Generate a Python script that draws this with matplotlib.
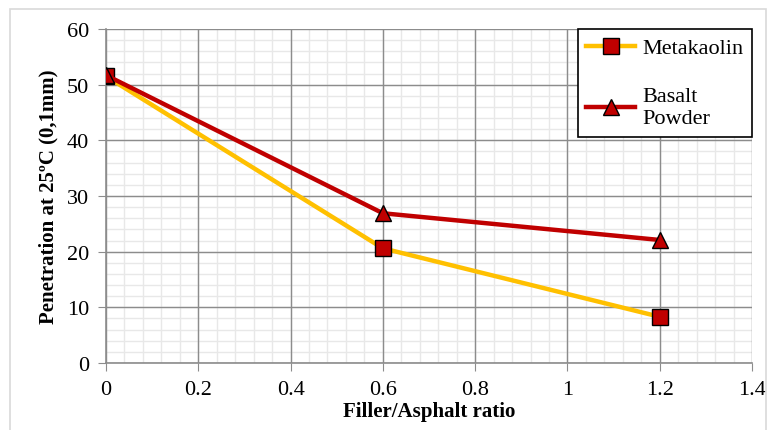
import matplotlib
matplotlib.use("Agg")
import matplotlib.pyplot as plt
import numpy as np
from matplotlib.patches import Rectangle

ratio = [0, 0.6, 1.2]
metakaolin = [51.5, 20.6, 8.3]
basalt = [51.7, 26.9, 22.1]
xticks = [0, 0.2, 0.4, 0.6, 0.8, 1, 1.2, 1.4]
xticklabels = ["0", "0.2", "0.4", "0.6", "0.8", "1", "1.2", "1.4"]
yticks = [0, 10, 20, 30, 40, 50, 60]

plt.rcParams['font.family'] = ['Liberation Serif', 'DejaVu Serif']

fig = plt.figure(figsize=(7.75, 4.31), dpi=100)
fig.patches.append(Rectangle((10/775, -0.01), (766-10)/775, 1 - 10/431 + 0.01,
                             transform=fig.transFigure, fill=False,
                             edgecolor='#d9d9d9', linewidth=1.2))
ax = fig.add_axes([106/775, 1-364/431, (752-106)/775, (364-30)/431])

ax.set_xlim(0, 1.4)
ax.set_ylim(0, 60)

# minor grid (drawn beneath major grid)
xminor = np.arange(0.04, 1.4, 0.04)
yminor = np.arange(2, 60, 2)
ax.vlines(xminor, 0, 60, colors='#e8e8e8', lw=1.0, zorder=0.1)
ax.hlines(yminor, 0, 1.4, colors='#e8e8e8', lw=1.0, zorder=0.1)

ax.plot(ratio, metakaolin, color='#FFC000', lw=3.2, marker='s', markersize=12,
        markerfacecolor='#C00000', markeredgecolor='black', markeredgewidth=1.0,
        label='Metakaolin', zorder=3)
ax.plot(ratio, basalt, color='#C00000', lw=3.2, marker='^', markersize=12,
        markerfacecolor='#C00000', markeredgecolor='black', markeredgewidth=1.0,
        label='Basalt\nPowder', zorder=4)

ax.set_xticks(xticks)
ax.set_xticklabels(xticklabels)
ax.set_yticks(yticks)

ax.grid(which='major', color='#8c8c8c', lw=1.0)
ax.set_axisbelow(True)

for s in ['top', 'right']:
    ax.spines[s].set_visible(False)
for s in ['left', 'bottom']:
    ax.spines[s].set_color('#8c8c8c')
    ax.spines[s].set_linewidth(1.2)

ax.tick_params(which='major', direction='out', length=6, color='#8c8c8c',
               labelsize=16, pad=6)

ax.set_xlabel('Filler/Asphalt ratio', fontsize=15, fontweight='bold', labelpad=2)
ax.set_ylabel('Penetration at 25ºC (0,1mm)', fontsize=15, fontweight='bold', labelpad=6)

leg = ax.legend(loc='upper right', bbox_to_anchor=(1.0, 1.0), fontsize=16,
                frameon=True, fancybox=False, edgecolor='black', framealpha=1,
                handlelength=2.2, labelspacing=1.3, borderpad=0.4,
                handletextpad=0.3, borderaxespad=0)
leg.get_frame().set_linewidth(1.2)

fig.savefig('out.png', dpi=100)
